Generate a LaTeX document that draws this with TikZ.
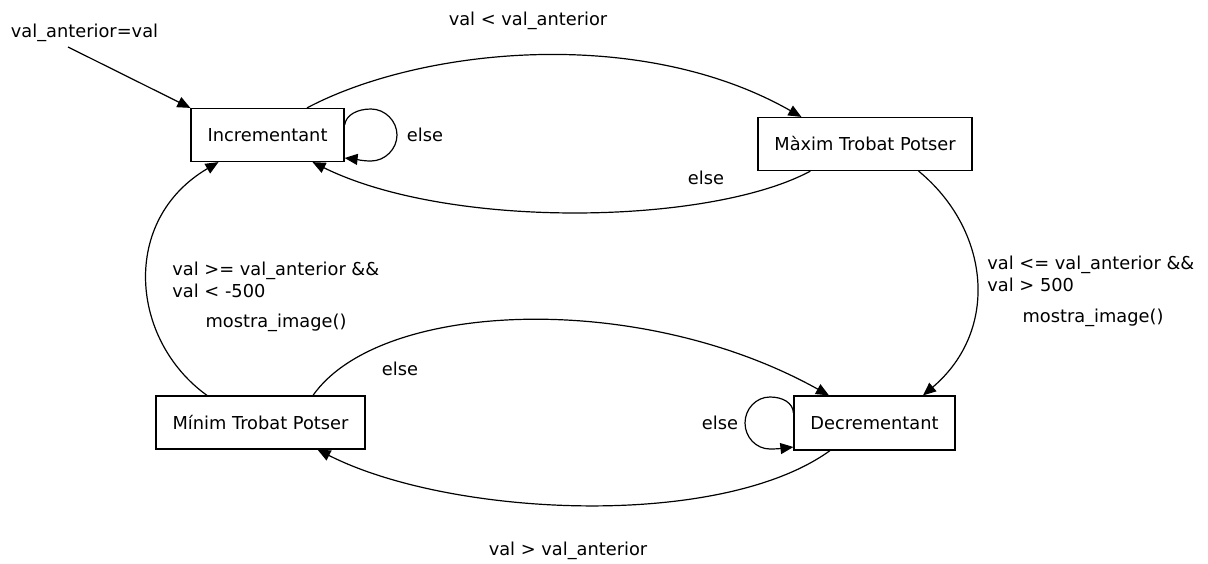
\documentclass[tikz,border=0pt]{standalone}
\usepackage{fontspec}
\setmainfont{DejaVu Sans}
\usetikzlibrary{arrows.meta,calc}
\tikzset{
  state/.style={draw, line width=0.6pt, inner sep=0pt, font=\fontsize{8.9}{11}\selectfont},
  lbl/.style={inner sep=0pt, font=\fontsize{8.9}{11}\selectfont},
  edge/.style={line width=0.6pt, -{Triangle[length=6.5pt,width=5.5pt]}}
}
\begin{document}
\begin{tikzpicture}[x=0.5pt,y=-0.5pt]
\useasboundingbox (0,0) rectangle (1208,563);
% states
\node[state, minimum width=76.5pt, minimum height=26.5pt] (inc) at (267.5,135) {Incrementant};
\node[state, minimum width=107pt, minimum height=26.5pt] (max) at (865,144) {Màxim Trobat Potser};
\node[state, minimum width=104.5pt, minimum height=26.5pt] (min) at (260.5,422.5) {Mínim Trobat Potser};
\node[state, minimum width=80.5pt, minimum height=27pt] (dec) at (874.5,423) {Decrementant};
% labels
\node[lbl] (linit) at (84.5,33) {val\_anterior=val};
\node[lbl] (l1) at (528,21) {val < val\_anterior};
\node[lbl] (l2) at (706,178) {else};
\node[lbl] (l3) at (425,135) {else};
\node[lbl, align=left, anchor=west] (l4) at (987,274) {val <= val\_anterior \&\&\\val > 500};
\node[lbl] (l5) at (1093,318) {mostra\_image()};
\node[lbl, align=left, anchor=west] (l6) at (172,280) {val >= val\_anterior \&\&\\val < -500};
\node[lbl] (l7) at (276,323) {mostra\_image()};
\node[lbl] (l8) at (400,369) {else};
\node[lbl] (l9) at (568,551) {val > val\_anterior};
\node[lbl] (l10) at (720,423) {else};
% initial
\coordinate (init) at (68,47);
\draw[edge] (init) -- (inc.north west);
% inc -> max
\draw[edge] ($(inc.north)+(39.5,0)$) .. controls (420,48) and (640,25) .. ($(max.north west)+(44,0)$);
% max -> inc
\draw[edge] ($(max.south west)+(53,0)$) .. controls (710,225) and (450,230) .. ($(inc.south)+(45,0)$);
% inc self loop
\draw[edge] ($(inc.east)+(0,-10)$) .. controls (346,115) and (357,109) .. (371,109)
  .. controls (385,109) and (397,121) .. (397,135)
  .. controls (397,149) and (385,161) .. (371,161)
  .. controls (362,161) and (354,159) .. ($(inc.east)+(0,23)$);
% max -> dec
\draw[edge] ($(max.south east)+(-54,0)$) .. controls (990,230) and (1000,330) .. ($(dec.north)+(48.5,0)$);
% min -> inc
\draw[edge] ($(min.north)+(-53.5,0)$) .. controls (130,340) and (120,220) .. ($(inc.south)+(-49,0)$);
% min -> dec
\draw[edge] ($(min.north)+(52.5,0)$) .. controls (380,300) and (640,290) .. ($(dec.north)+(-45.5,0)$);
% dec -> min
\draw[edge] ($(dec.south)+(-44.5,0)$) .. controls (720,530) and (450,517) .. ($(min.south)+(57,0)$);
% dec self loop
\draw[edge] ($(dec.west)+(0,-10)$) .. controls (793,403) and (783,397) .. (770,397)
  .. controls (756,397) and (745,409) .. (745,423)
  .. controls (745,437) and (756,449) .. (770,449)
  .. controls (778,449) and (785,448) .. ($(dec.west)+(0,24)$);
\end{tikzpicture}
\end{document}
